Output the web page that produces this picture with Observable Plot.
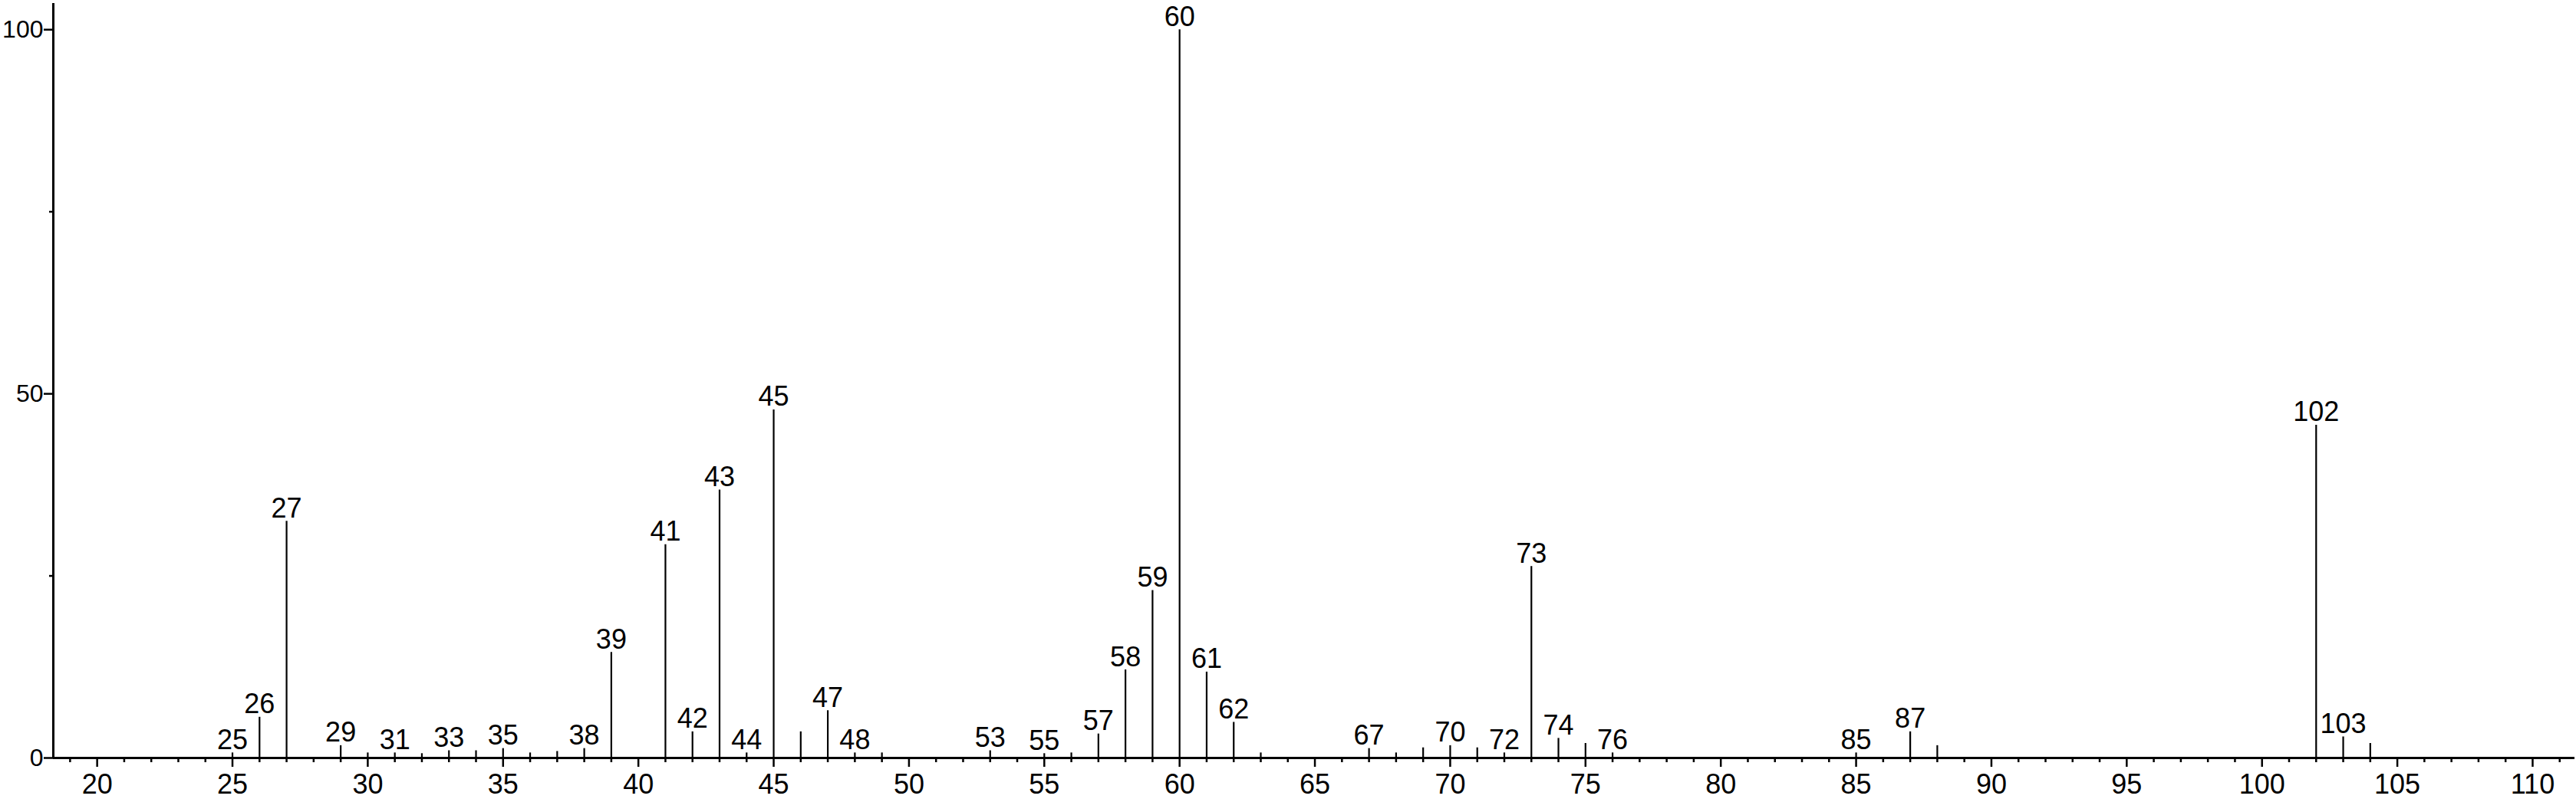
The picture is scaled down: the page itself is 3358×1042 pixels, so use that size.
<!DOCTYPE html>
<html>
<head>
<meta charset="utf-8">
<script src="https://cdn.jsdelivr.net/npm/d3@7"></script>
<script src="https://cdn.jsdelivr.net/npm/@observablehq/plot@0.6"></script>
<style>
  html, body { margin: 0; padding: 0; background: #fff; }
  #chart svg { display: block; }
</style>
</head>
<body>
<div id="chart"></div>
<script>
// m/z values of the peaks
const mz = [25, 26, 27, 29, 30, 31, 32, 33, 34, 35, 36, 37, 38, 39, 41, 42, 43, 44, 45, 46, 47, 48, 49,
            53, 55, 56, 57, 58, 59, 60, 61, 62, 63, 67, 68, 69, 70, 71, 72, 73, 74, 75, 76, 85, 87, 88,
            102, 103, 104];
// relative intensities (%)
const intensity = [0.7, 5.6, 32.5, 1.7, 0.7, 0.7, 0.6, 1.0, 1.0, 1.3, 0.7, 0.9, 1.3, 14.5, 29.3, 3.6, 36.8, 0.7, 47.8, 3.6, 6.5, 0.7, 0.7,
                   1.0, 0.6, 0.7, 3.3, 12.1, 23.0, 100, 11.8, 4.9, 0.7, 1.3, 0.7, 1.4, 1.7, 1.4, 0.7, 26.3, 2.7, 2.0, 0.7, 0.7, 3.6, 1.7,
                   45.7, 2.9, 2.0];
// peaks that carry an m/z label
const labeledMz = [25, 26, 27, 29, 31, 33, 35, 38, 39, 41, 42, 43, 44, 45, 47, 48, 53, 55, 57, 58, 59, 60, 61, 62,
                   67, 70, 72, 73, 74, 76, 85, 87, 102, 103];
// axis ticks
const xMajorTicks = [20, 25, 30, 35, 40, 45, 50, 55, 60, 65, 70, 75, 80, 85, 90, 95, 100, 105, 110];
const xMinorTicks = d3.range(19, 112).filter(d => d % 5 !== 0);
const yMajorTicks = [0, 50, 100];
const yMinorTicks = [25, 75];
const xDomain = [18.38, 111.56];
const yDomain = [0, 103.6];

const data = mz.map((m, i) => ({mz: m, intensity: intensity[i]}));
const labeled = data.filter(d => labeledMz.includes(d.mz));

const chart = Plot.plot({
  width: 3358,
  height: 1042,
  marginTop: 4,
  marginBottom: 54,
  marginLeft: 69,
  marginRight: 2,
  x: {domain: xDomain, label: null},
  y: {domain: yDomain, label: null},
  style: {
    fontFamily: "'Liberation Sans', Arial, Helvetica, sans-serif",
    fontSize: "36px",
    background: "#fff",
    color: "#000"
  },
  marks: [
    Plot.axisX(xMinorTicks, {tickSize: 6, text: null, strokeWidth: 2.5}),
    Plot.axisX(xMajorTicks, {tickSize: 12, tickPadding: 9, strokeWidth: 2.5}),
    Plot.axisY(yMinorTicks, {tickSize: 5, text: null, strokeWidth: 2.5}),
    Plot.axisY(yMajorTicks, {tickSize: 12, tickPadding: 1, strokeWidth: 2.5, fontSize: 32}),
    Plot.ruleY([0], {strokeWidth: 3}),
    Plot.ruleX([xDomain[0]], {strokeWidth: 3}),
    Plot.ruleX(data, {x: "mz", y1: 0, y2: "intensity", strokeWidth: 2.2, stroke: "#000"}),
    Plot.text(labeled, {x: "mz", y: "intensity", text: d => String(d.mz), lineAnchor: "bottom", dy: -5, fill: "#000"})
  ]
});
document.getElementById("chart").appendChild(chart);
</script>
</body>
</html>
